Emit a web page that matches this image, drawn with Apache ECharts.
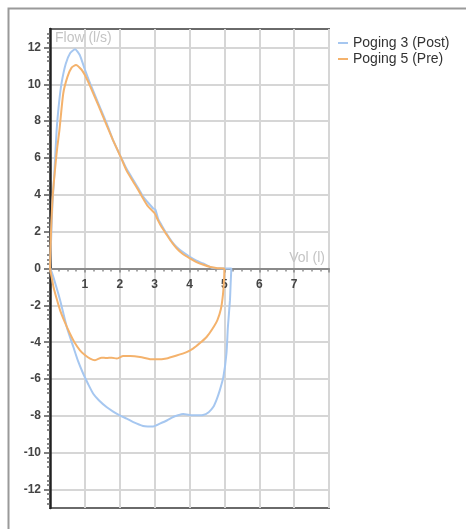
<!DOCTYPE html>
<html>
<head>
<meta charset="utf-8">
<script src="https://cdn.jsdelivr.net/npm/echarts@6/dist/echarts.min.js"></script>
<style>
  html, body { margin: 0; padding: 0; background: #fff; }
  #chart { width: 466px; height: 529px; }
</style>
</head>
<body>
<div id="chart"></div>
<script>
// Flow-volume loops: [volume (l), flow (l/s)], expiration above zero, inspiration below
const seriesNames = ['Poging 3 (Post)', 'Poging 5 (Pre)'];
const seriesColors = ['#a6c7f0', '#f4b26c'];

const loopPost = [
  [0, 0], [0.03, 1.5], [0.07, 3.5], [0.12, 5], [0.19, 7.5], [0.26, 9], [0.33, 10.05],
  [0.45, 11.1], [0.58, 11.7], [0.72, 11.9], [0.85, 11.6], [1.0, 10.8], [1.15, 10.05],
  [1.4, 8.9], [1.62, 7.9], [1.8, 7.0], [2.05, 5.98], [2.2, 5.4], [2.39, 4.8], [2.55, 4.3],
  [2.67, 3.9], [2.8, 3.6], [2.96, 3.26], [3.02, 3.2], [3.1, 2.7], [3.2, 2.35], [3.34, 1.9],
  [3.5, 1.45], [3.63, 1.17], [3.8, 0.9], [4.01, 0.63], [4.2, 0.42], [4.39, 0.27], [4.58, 0.09],
  [4.68, 0.02], [4.9, 0], [5.1, 0], [5.2, 0],
  [5.18, -0.8], [5.16, -1.72], [5.1, -3.2], [5.06, -4.6], [4.97, -5.9], [4.87, -6.6],
  [4.78, -7.1], [4.68, -7.52], [4.55, -7.8], [4.39, -7.95], [4.1, -7.97], [3.82, -7.9],
  [3.65, -7.98], [3.53, -8.06], [3.35, -8.25], [3.15, -8.42], [2.96, -8.57], [2.8, -8.57],
  [2.67, -8.55], [2.39, -8.34], [2.2, -8.15], [2.0, -7.97], [1.8, -7.75], [1.62, -7.52],
  [1.4, -7.15], [1.24, -6.8], [1.1, -6.3], [0.95, -5.7], [0.8, -5.0], [0.67, -4.26],
  [0.48, -3.17], [0.29, -1.72], [0.15, -0.8], [0.05, -0.2], [0, 0]
];

const loopPre = [
  [0, 0], [0.03, 2], [0.08, 4], [0.17, 5.9], [0.21, 6.6], [0.27, 7.5], [0.38, 9.5],
  [0.5, 10.4], [0.62, 10.9], [0.745, 11.05], [0.9, 10.8], [1.0, 10.5], [1.15, 9.9],
  [1.4, 8.8], [1.62, 7.8], [1.8, 7.0], [2.05, 5.95], [2.2, 5.3], [2.39, 4.7], [2.55, 4.2],
  [2.67, 3.8], [2.8, 3.4], [3.0, 3.0], [3.1, 2.6], [3.2, 2.25], [3.34, 1.85], [3.5, 1.4],
  [3.63, 1.1], [3.8, 0.8], [4.01, 0.55], [4.2, 0.35], [4.4, 0.2], [4.6, 0.08], [4.8, 0.02],
  [5.0, 0],
  [4.99, -0.6], [4.96, -1.4], [4.9, -2.2], [4.8, -2.8], [4.65, -3.3], [4.49, -3.72],
  [4.3, -4.05], [4.1, -4.35], [3.9, -4.55], [3.63, -4.72], [3.34, -4.88], [3.06, -4.93],
  [2.87, -4.92], [2.58, -4.8], [2.3, -4.75], [2.1, -4.75], [1.91, -4.89], [1.77, -4.84],
  [1.62, -4.86], [1.48, -4.84], [1.29, -4.98], [1.15, -4.89], [1.0, -4.7], [0.86, -4.44],
  [0.7, -4.0], [0.57, -3.53], [0.4, -2.8], [0.29, -2.27], [0.2, -1.7], [0.1, -1.0],
  [0.03, -0.3], [0, 0]
];

const flowTicks = [-12, -10, -8, -6, -4, -2, 0, 2, 4, 6, 8, 10, 12];
const volLabels = [1, 2, 3, 4, 5, 6, 7];

const font = '"Liberation Sans", Arial, sans-serif';
const gridBox = { left: 50, top: 29, right: 137, bottom: 21 };
const chartHeight = 529;
// the volume axis sits on the zero-flow line, halfway up the symmetric flow range
const zeroOffset = -(chartHeight - gridBox.top - gridBox.bottom) / 2;

const chart = echarts.init(document.getElementById('chart'), null, { renderer: 'canvas' });

chart.setOption({
  animation: false,
  backgroundColor: '#fff',
  graphic: [{
    type: 'rect',
    left: 6, top: 6,
    shape: { width: 480, height: 540 },
    style: { fill: 'none', stroke: '#9a9a9a', lineWidth: 2 },
    silent: true
  }],
  legend: {
    orient: 'vertical',
    left: 333, top: 31,
    itemWidth: 10, itemHeight: 2, itemGap: 2,
    icon: 'rect',
    textStyle: { fontFamily: font, fontSize: 14, color: '#333' },
    data: seriesNames
  },
  grid: Object.assign({ show: true, borderColor: '#6a6a6a', borderWidth: 2 }, gridBox),
  xAxis: {
    type: 'value', min: 0, max: 8, interval: 1,
    offset: zeroOffset,
    name: 'Vol (l)', nameLocation: 'end', nameGap: -4,
    nameTextStyle: { fontFamily: font, fontSize: 14, color: '#c4c4c4', align: 'right', verticalAlign: 'bottom', padding: [0, 0, 3, 0] },
    axisLine: { onZero: false, lineStyle: { color: '#8a8a8a', width: 2 } },
    axisTick: { show: true, length: 4, lineStyle: { color: '#8a8a8a', width: 1.5 } },
    minorTick: { show: true, splitNumber: 4, length: 3, lineStyle: { color: '#8a8a8a', width: 1.5 } },
    axisLabel: {
      margin: 10, fontFamily: font, fontSize: 12, fontWeight: 'bold', color: '#444',
      formatter: v => (volLabels.indexOf(v) >= 0 ? String(v) : '')
    },
    splitLine: { show: true, lineStyle: { color: '#d6d6d6', width: 2 } }
  },
  yAxis: {
    type: 'value', min: -13, max: 13, interval: 1,
    name: 'Flow (l/s)', nameLocation: 'end', nameGap: -2,
    nameTextStyle: { fontFamily: font, fontSize: 14, color: '#c4c4c4', align: 'left', verticalAlign: 'top', padding: [0, 0, 0, 5] },
    axisLine: { show: true, onZero: false, lineStyle: { color: '#222', width: 2.5 } },
    axisTick: { show: true, length: 6, customValues: flowTicks, lineStyle: { color: '#555', width: 1.5 } },
    minorTick: { show: true, splitNumber: 4, length: 3, lineStyle: { color: '#666', width: 1.5 } },
    axisLabel: { margin: 9, customValues: flowTicks, fontFamily: font, fontSize: 12, fontWeight: 'bold', color: '#444' },
    splitLine: { show: true, lineStyle: { color: '#d6d6d6', width: 2 } }
  },
  series: [
    {
      name: seriesNames[0], type: 'line', data: loopPost,
      symbol: 'none', smooth: 0.2, clip: true,
      lineStyle: { color: seriesColors[0], width: 2 }, itemStyle: { color: seriesColors[0] }
    },
    {
      name: seriesNames[1], type: 'line', data: loopPre,
      symbol: 'none', smooth: 0.2, clip: true,
      lineStyle: { color: seriesColors[1], width: 2 }, itemStyle: { color: seriesColors[1] }
    }
  ]
});
</script>
</body>
</html>
